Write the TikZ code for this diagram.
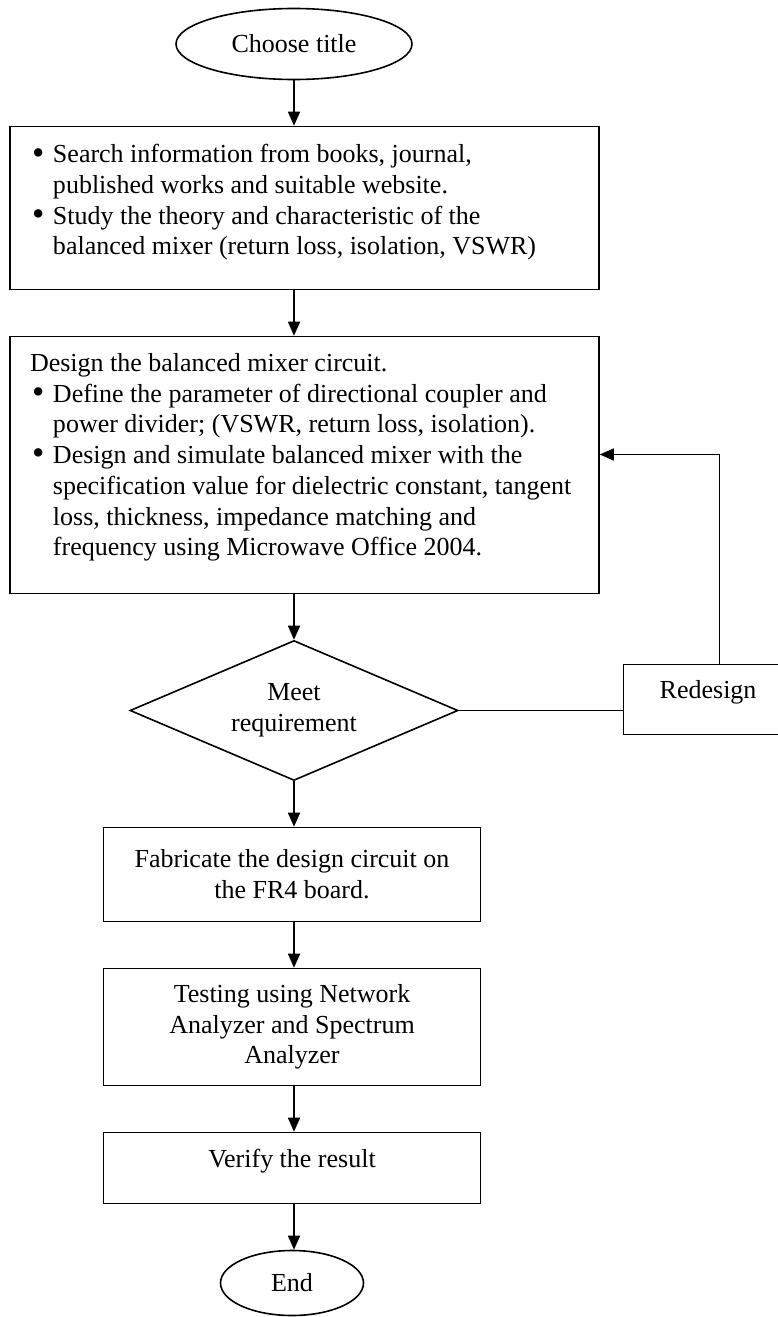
\documentclass[tikz,border=0pt]{standalone}
\usepackage{graphicx}
\usepackage{fontspec}
\setmainfont{Liberation Serif}
\usetikzlibrary{arrows.meta,positioning,shapes.geometric}

% bullet line with hanging indent (use \newline inside)
\newcommand{\bul}{\par\hangindent=23pt\hangafter=1\noindent
  \makebox[23pt][l]{\hspace{2pt}\raisebox{-1.2pt}{\scalebox{1.35}{\textbullet}}}}

\tikzset{
  % common outline and text
  base/.style={draw,line width=1.6pt,inner sep=0pt,
    font=\fontsize{26}{30.7}\selectfont},
  % start / end
  term/.style={base,ellipse},
  % wide box holding a list
  listbox/.style={base,rectangle,minimum width=589pt},
  % plain step box
  stepbox/.style={base,rectangle,align=center,minimum width=377pt},
  % decision
  decide/.style={base,diamond,aspect=2.3,align=center,
    minimum width=328pt,minimum height=140pt},
  % connectors
  arr/.style={-{Triangle[length=14pt,width=12pt]},line width=1.6pt},
  link/.style={line width=1.6pt},
}

\begin{document}
\begin{tikzpicture}[x=1pt,y=1pt,node distance=45.4pt]
  \useasboundingbox (0,0) rectangle (777,-1317);

  % main column
  \node[term,minimum width=236pt,minimum height=71pt] (title) at (294,-44) {Choose title};
  \node[listbox,minimum height=163pt,below=of title,xshift=10.5pt] (search)
    {\parbox[c][127pt][t]{549pt}{\raggedright
     \bul Search information from books, journal,\newline published works and suitable website.
     \bul Study the theory and characteristic of the\newline balanced mixer (return loss, isolation, VSWR)}};
  \node[listbox,minimum height=257pt,below=of search] (design)
    {\parbox[c][223pt][t]{549pt}{\raggedright
     Design the balanced mixer circuit.
     \bul Define the parameter of directional coupler and\newline power divider; (VSWR, return loss, isolation).
     \bul Design and simulate balanced mixer with the\newline specification value for dielectric constant, tangent\newline
     loss, thickness, impedance matching and\newline frequency using Microwave Office 2004.}};
  \node[decide,below=of design,xshift=-10.5pt] (check) {Meet\\requirement};
  \node[stepbox,minimum height=94pt,below=of check,xshift=-2pt] (fab)
    {Fabricate the design circuit on\\the FR4 board.};
  \node[stepbox,minimum height=117pt,below=of fab] (test)
    {Testing using Network\\Analyzer and Spectrum\\Analyzer};
  \node[stepbox,minimum height=71pt,text depth=20pt,below=of test] (verify) {Verify the result};
  \node[term,minimum width=143pt,minimum height=65pt,below=of verify] (finish) {End};

  % loop back
  \node[base,rectangle,minimum width=169pt,minimum height=70pt,text depth=20pt,
    right=164pt of check,yshift=11pt] (redesign) {Redesign};

  \draw[arr] (title.south) -- (title.south |- search.north);
  \draw[arr] (search.south -| title.south) -- (design.north -| title.south);
  \draw[arr] (design.south -| check.north) -- (check.north);
  \draw[arr] (check.south) -- (check.south |- fab.north);
  \draw[arr] (fab.south -| check.south) -- (test.north -| check.south);
  \draw[arr] (test.south -| check.south) -- (verify.north -| check.south);
  \draw[arr] (verify.south -| check.south) -- (finish.north -| check.south);

  \draw[link] (check.east) -- (check.east -| redesign.west);
  \draw[arr] ([xshift=11.5pt]redesign.north) |- ([yshift=10.5pt]design.east);
\end{tikzpicture}
\end{document}
